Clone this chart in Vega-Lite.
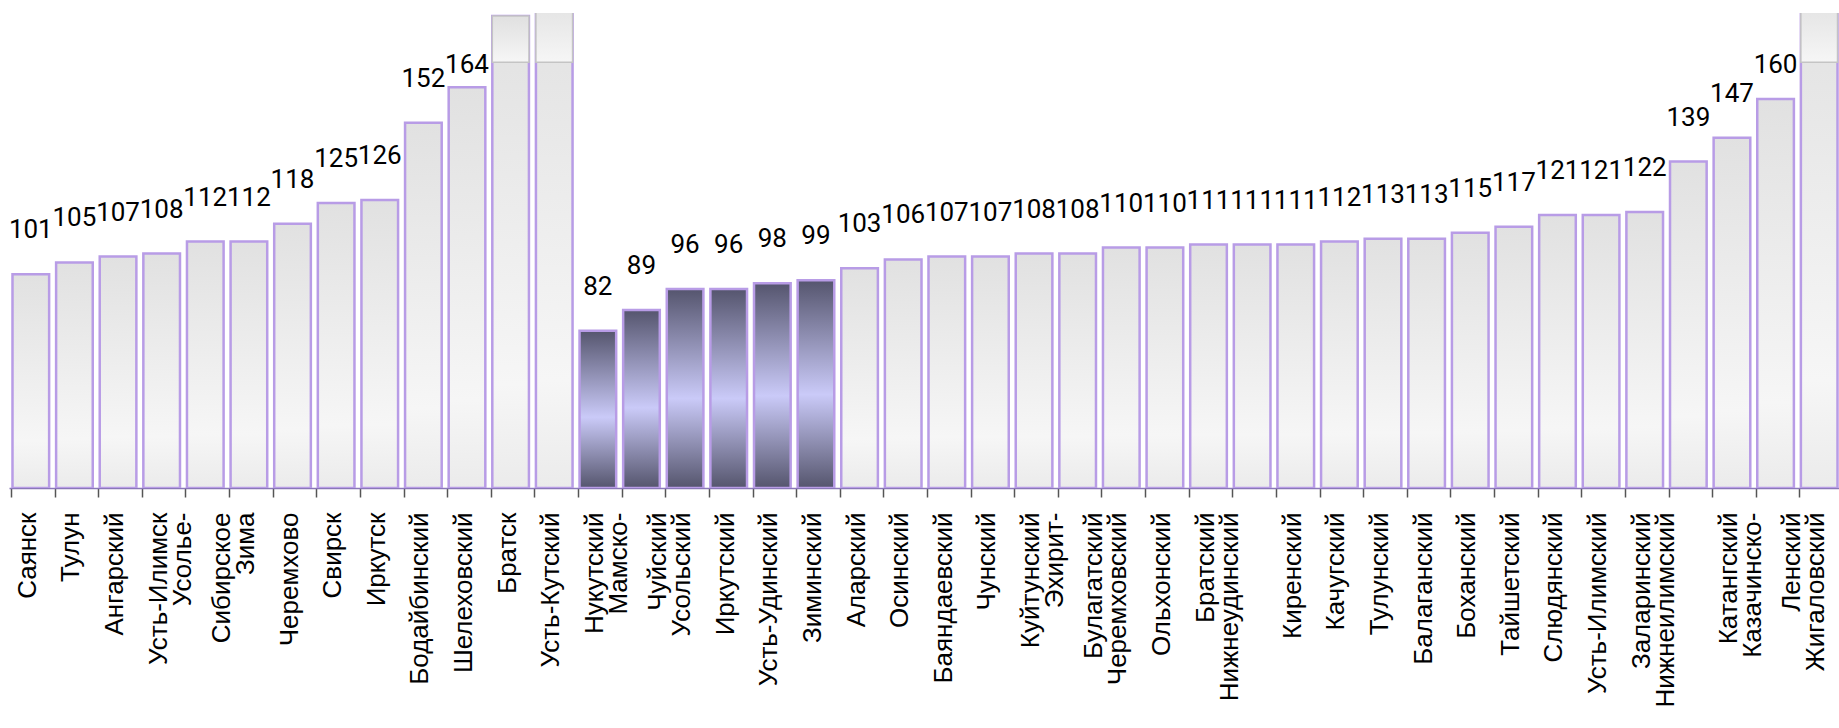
{
  "$schema": "https://vega.github.io/schema/vega-lite/v6.json",
  "width": 1832,
  "height": 475,
  "padding": {"left": 9, "top": 13, "right": 0, "bottom": 240},
  "autosize": {"type": "none"},
  "background": "white",
  "config": {"view": {"stroke": null}},
  "data": {
    "values": [
      {"name": "Саянск", "value": 101, "g": "l"},
      {"name": "Тулун", "value": 105, "g": "l"},
      {"name": "Ангарский", "value": 107, "g": "l"},
      {"name": "Усть-Илимск", "value": 108, "g": "l"},
      {"name": "Усолье-\nСибирское", "value": 112, "g": "l"},
      {"name": "Зима", "value": 112, "g": "l"},
      {"name": "Черемхово", "value": 118, "g": "l"},
      {"name": "Свирск", "value": 125, "g": "l"},
      {"name": "Иркутск", "value": 126, "g": "l"},
      {"name": "Бодайбинский", "value": 152, "g": "l"},
      {"name": "Шелеховский", "value": 164, "g": "l"},
      {"name": "Братск", "value": 188, "g": "t"},
      {"name": "Усть-Кутский", "value": 195, "g": "t"},
      {"name": "Нукутский", "value": 82, "g": "d"},
      {"name": "Мамско-\nЧуйский", "value": 89, "g": "d"},
      {"name": "Усольский", "value": 96, "g": "d"},
      {"name": "Иркутский", "value": 96, "g": "d"},
      {"name": "Усть-Удинский", "value": 98, "g": "d"},
      {"name": "Зиминский", "value": 99, "g": "d"},
      {"name": "Аларский", "value": 103, "g": "l"},
      {"name": "Осинский", "value": 106, "g": "l"},
      {"name": "Баяндаевский", "value": 107, "g": "l"},
      {"name": "Чунский", "value": 107, "g": "l"},
      {"name": "Куйтунский", "value": 108, "g": "l"},
      {"name": "Эхирит-\nБулагатский", "value": 108, "g": "l"},
      {"name": "Черемховский", "value": 110, "g": "l"},
      {"name": "Ольхонский", "value": 110, "g": "l"},
      {"name": "Братский", "value": 111, "g": "l"},
      {"name": "Нижнеудинский\n ", "value": 111, "g": "l"},
      {"name": "Киренский", "value": 111, "g": "l"},
      {"name": "Качугский", "value": 112, "g": "l"},
      {"name": "Тулунский", "value": 113, "g": "l"},
      {"name": "Балаганский", "value": 113, "g": "l"},
      {"name": "Боханский", "value": 115, "g": "l"},
      {"name": "Тайшетский", "value": 117, "g": "l"},
      {"name": "Слюдянский", "value": 121, "g": "l"},
      {"name": "Усть-Илимский", "value": 121, "g": "l"},
      {"name": "Заларинский", "value": 122, "g": "l"},
      {"name": "Нижнеилимский\n ", "value": 139, "g": "l"},
      {"name": "Катангский", "value": 147, "g": "l"},
      {"name": "Казачинско-\nЛенский", "value": 160, "g": "l"},
      {"name": "Жигаловский", "value": 195, "g": "t"}
    ]
  },
  "encoding": {
    "x": {
      "field": "name", "type": "nominal",
      "scale": {
        "domain": ["Саянск", "Тулун", "Ангарский", "Усть-Илимск", "Усолье-\nСибирское", "Зима", "Черемхово", "Свирск", "Иркутск", "Бодайбинский", "Шелеховский", "Братск", "Усть-Кутский", "Нукутский", "Мамско-\nЧуйский", "Усольский", "Иркутский", "Усть-Удинский", "Зиминский", "Аларский", "Осинский", "Баяндаевский", "Чунский", "Куйтунский", "Эхирит-\nБулагатский", "Черемховский", "Ольхонский", "Братский", "Нижнеудинский\n ", "Киренский", "Качугский", "Тулунский", "Балаганский", "Боханский", "Тайшетский", "Слюдянский", "Усть-Илимский", "Заларинский", "Нижнеилимский\n ", "Катангский", "Казачинско-\nЛенский", "Жигаловский"],
        "paddingInner": 0.16, "paddingOuter": 0.08
      }
    }
  },
  "layer": [
    {
      "transform": [{"filter": "datum.g != 'd'"}],
      "mark": {
        "type": "bar",
        "clip": true,
        "stroke": "#b89ce6",
        "strokeWidth": 2.5,
        "fill": {
          "gradient": "linear", "x1": 0, "y1": 0, "x2": 0, "y2": 1,
          "stops": [
            {"offset": 0, "color": "#e1e1e1"},
            {"offset": 0.78, "color": "#f6f6f6"},
            {"offset": 1, "color": "#ebebeb"}
          ]
        }
      },
      "encoding": {
        "x": {
          "field": "name", "type": "nominal",
          "axis": {
            "orient": "bottom", "zindex": 1,
            "title": null, "ticks": false, "domain": false,
            "labelAngle": -90, "labelFont": "Liberation Sans", "labelFontSize": 26,
            "labelColor": "#000000", "labelLineHeight": 39, "labelPadding": 24,
            "labelOverlap": false, "labelBound": false, "labelFlush": false,
            "labelLimit": 500,
            "labelOffset": {"condition": {"test": "indexof(datum.value, '\\n') >= 0", "value": -22.5}, "value": -3},
            "labelExpr": "split(datum.label, '\\n')"
          }
        },
        "y": {
          "field": "value", "type": "quantitative",
          "scale": {"domain": [29, 189], "zero": false, "nice": false},
          "axis": null
        },
        "y2": {"datum": 29}
      }
    },
    {
      "transform": [{"filter": "datum.g == 'd'"}],
      "mark": {
        "type": "bar",
        "clip": true,
        "stroke": "#b89ce6",
        "strokeWidth": 2.5,
        "fill": {
          "gradient": "linear", "x1": 0, "y1": 0, "x2": 0, "y2": 1,
          "stops": [
            {"offset": 0, "color": "#55556e"},
            {"offset": 0.55, "color": "#cacaf8"},
            {"offset": 1, "color": "#55556d"}
          ]
        }
      },
      "encoding": {
        "x": {"field": "name", "type": "nominal", "axis": null},
        "y": {
          "field": "value", "type": "quantitative",
          "scale": {"domain": [29, 189], "zero": false, "nice": false},
          "axis": null
        },
        "y2": {"datum": 29}
      }
    },
    {
      "transform": [{"filter": "datum.g == 't'"}],
      "mark": {
        "type": "bar",
        "clip": true,
        "stroke": "#c4c4c4",
        "strokeWidth": 1.5,
        "fill": {
          "gradient": "linear", "x1": 0, "y1": 0, "x2": 0, "y2": 1,
          "stops": [
            {"offset": 0, "color": "#e0e0e0"},
            {"offset": 1, "color": "#f6f6f6"}
          ]
        }
      },
      "encoding": {
        "x": {"field": "name", "type": "nominal", "axis": null},
        "y": {
          "field": "value", "type": "quantitative",
          "scale": {"domain": [29, 189], "zero": false, "nice": false},
          "axis": null
        },
        "y2": {"datum": 172.4}
      }
    },
    {
      "transform": [{"filter": "datum.g != 't'"}],
      "mark": {
        "type": "text",
        "font": "Roboto",
        "fontSize": 26,
        "color": "#000000",
        "baseline": "middle",
        "align": "center",
        "dy": -44
      },
      "encoding": {
        "x": {
          "field": "name", "type": "nominal",
          "axis": {
            "orient": "bottom",
            "title": null, "labels": false, "ticks": true, "domain": true,
            "bandPosition": 0, "tickOffset": -1.5, "tickSize": 9,
            "tickColor": "#555555", "tickWidth": 1.5,
            "domainColor": "#8a78b8", "domainWidth": 1.5, "grid": false
          }
        },
        "y": {
          "field": "value", "type": "quantitative",
          "scale": {"domain": [29, 156.6], "range": [475, 96.3], "zero": false, "nice": false, "clamp": true},
          "axis": null
        },
        "text": {"field": "value", "type": "quantitative"}
      }
    }
  ],
  "resolve": {"scale": {"y": "independent"}, "axis": {"x": "independent"}}
}
